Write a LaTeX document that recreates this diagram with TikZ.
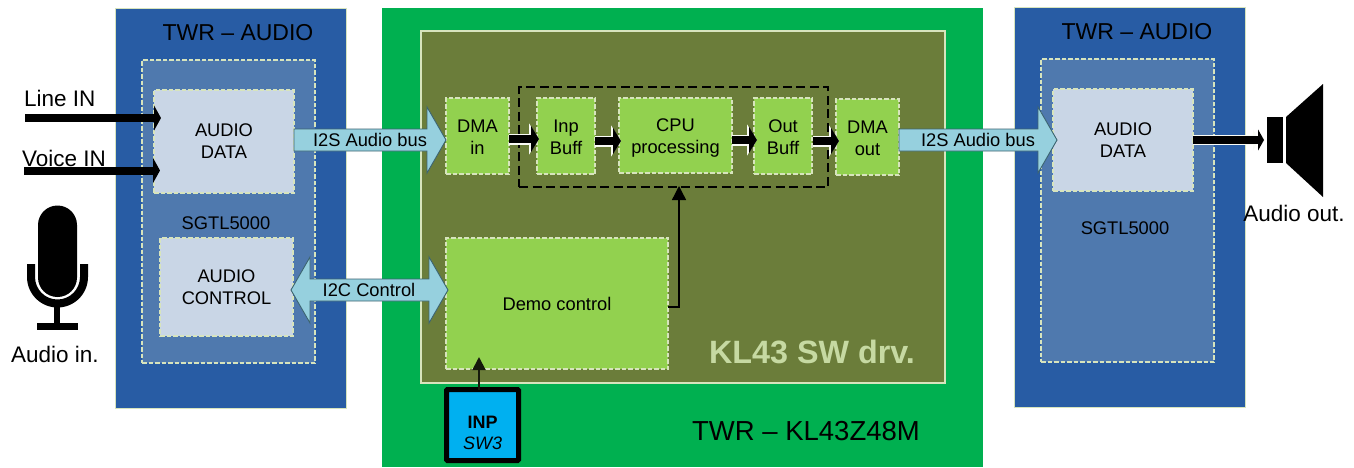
\documentclass[tikz,border=0pt]{standalone}
\usepackage{fontspec}
\setmainfont{Liberation Sans}
\usetikzlibrary{arrows.meta,calc}
\definecolor{twrblue}{HTML}{285CA4}
\definecolor{sgtl}{HTML}{4F79AE}
\definecolor{audiobox}{HTML}{C9D6E6}
\definecolor{edgelight}{HTML}{D7E4BD}
\definecolor{boardgreen}{HTML}{00B050}
\definecolor{olive}{HTML}{6B7D3A}
\definecolor{swgreen}{HTML}{92D14F}
\definecolor{busfill}{HTML}{96D0DE}
\definecolor{busedge}{HTML}{3C6470}
\definecolor{inpblue}{HTML}{00B0F0}
\definecolor{drvtext}{HTML}{C6D9A2}
\newcommand{\fs}[1]{\fontsize{#1}{22}\selectfont}
\newcommand{\lowerone}{\rule{0pt}{15.5pt}}
\newcommand{\lowertwo}{\rule{0pt}{17pt}}
% horizontal block arrow: start, end, y of its axis (in picture pixels, downwards)
\newcommand{\busarrow}[3]{%
  \path let \p1=(#1), \p2=(#2) in
    [busshape] (\x1,-#3pt+11pt) -- (\x2-19pt,-#3pt+11pt) -- (\x2-19pt,-#3pt+33pt) -- (\x2,-#3pt)
    -- (\x2-19pt,-#3pt-33pt) -- (\x2-19pt,-#3pt-11pt) -- (\x1,-#3pt-11pt) -- cycle;}
\newcommand{\busarrowboth}[3]{%
  \path let \p1=(#1), \p2=(#2) in
    [busshape] (\x1,-#3pt) -- (\x1+19pt,-#3pt+33pt) -- (\x1+19pt,-#3pt+11pt)
    -- (\x2-19pt,-#3pt+11pt) -- (\x2-19pt,-#3pt+33pt) -- (\x2,-#3pt)
    -- (\x2-19pt,-#3pt-33pt) -- (\x2-19pt,-#3pt-11pt) -- (\x1+19pt,-#3pt-11pt)
    -- (\x1+19pt,-#3pt-33pt) -- cycle;}
\tikzset{
  x=1pt,y=-1pt,
  every node/.style={inner sep=0pt,outer sep=0pt,align=center,text=black},
  labeltext/.style={font=\fs{18.3}},
  twr/.style={draw=edgelight,line width=0.8pt,fill=twrblue},
  dashbox/.style={draw=edgelight,line width=2.6pt,dash pattern=on 4.5pt off 2pt,font=\fs{18.3}},
  sgtlbox/.style={dashbox,fill=sgtl},
  audiofn/.style={dashbox,fill=audiobox},
  swfn/.style={dashbox,fill=swgreen},
  busshape/.style={draw=busedge,line width=0.9pt,fill=busfill,line join=miter},
  blackarrow/.style={draw=black,line width=8pt,-{Triangle[length=8pt,width=26pt]},
    preaction={draw=white!85!edgelight,line width=11pt,-{Triangle[length=10pt,width=31pt]}}},
  plainblack/.style={draw=black,line width=8pt,-{Triangle[length=7pt,width=25pt]}},
}
\begin{document}
\begin{tikzpicture}
\useasboundingbox (0,0) rectangle (1354,467);
% carrier boards
\node[twr,minimum width=231pt,minimum height=400pt] (twrl) at (230.5,208) {};
\node[twr,minimum width=231pt,minimum height=400pt] (twrr) at (1129.5,207) {};
\node[fill=boardgreen,minimum width=601pt,minimum height=459pt] (kl) at (682.5,237.5) {};
\node[draw=edgelight,line width=1.8pt,fill=olive,minimum width=524pt,minimum height=352pt] (drv) at (683,207) {};
% left SGTL5000
\node[sgtlbox,minimum width=173pt,minimum height=303pt] (sgl) at (228.5,211.5) {};
\node[audiofn,minimum width=140pt,minimum height=103pt] (adl) at (224,141.5) {AUDIO\\DATA};
\node[audiofn,minimum width=133pt,minimum height=98pt] (actl) at (226.5,287) {AUDIO\\CONTROL};
% right SGTL5000
\node[sgtlbox,minimum width=173pt,minimum height=303pt] (sgr) at (1127.5,210.5) {};
\node[audiofn,minimum width=140pt,minimum height=102pt] (adr) at (1123,140) {AUDIO\\DATA};
% software blocks
\node[swfn,minimum width=63pt,minimum height=76pt] (dmain) at (477.5,136) {\lowerone DMA\\in};
\node[swfn,minimum width=58pt,minimum height=76pt] (inpb) at (566,136) {\lowerone Inp\\Buff};
\node[swfn,minimum width=113pt,minimum height=75pt] (cpu) at (675.5,135.5) {\lowertwo CPU\\processing};
\node[swfn,minimum width=58pt,minimum height=76pt] (outb) at (783,136) {\lowerone Out\\Buff};
\node[swfn,minimum width=63pt,minimum height=76pt] (dmaout) at (867.5,137) {\lowerone DMA\\out};
\node[draw=black,line width=1.3pt,dash pattern=on 9pt off 4.5pt,minimum width=309pt,minimum height=100pt] (grp) at (673.5,137) {};
\node[swfn,minimum width=222pt,minimum height=131pt] (demo) at (557,303.5) {Demo control};
\node[draw=black,line width=5pt,rounded corners=1pt,fill=inpblue,minimum width=72pt,minimum height=71pt,font=\fs{18}] (inp) at (482.5,425)
  {\vphantom{X}\\[-6.5pt]\textbf{INP}\\[-1pt]\textit{SW3}};
% titles
\node[font=\fs{23}] (t1) at (238,33) {TWR – AUDIO};
\node[font=\fs{23}] (t2) at (1137,32) {TWR – AUDIO};
\node[font=\fs{27.5}] (t3) at (806,431) {TWR – KL43Z48M};
\node[font=\bfseries\fs{32.3},text=drvtext] (t4) at (812,352) {KL43 SW drv.};
\node[labeltext] (s1) at (226,223) {SGTL5000};
\node[labeltext] (s2) at (1125,228) {SGTL5000};
% bus arrows
\busarrow{adl.east}{dmain.west}{140}
\node[labeltext] (bus1) at (370,139.5) {I2S Audio bus};
\busarrow{dmaout.east}{[xshift=4pt]adr.west}{140}
\node[labeltext] (bus2) at (978,139.5) {I2S Audio bus};
\busarrowboth{[xshift=-2pt]actl.east}{[xshift=2pt]demo.west}{290}
\node[labeltext] (bus3) at (369,289.5) {I2C Control};
% signal-path arrows
\draw[blackarrow,shorten >=-2pt] ([yshift=-3pt]dmain.east) -- ([yshift=-3pt]inpb.west);
\draw[blackarrow,shorten >=-2pt] ([yshift=-5pt]inpb.east) -- ([yshift=-5.5pt]cpu.west);
\draw[blackarrow,shorten >=-3pt] ([yshift=-4.5pt]cpu.east) -- ([yshift=-4pt]outb.west);
\draw[blackarrow,shorten >=-3pt] ([yshift=-5pt,xshift=1pt]outb.east) -- ([yshift=-4pt]dmaout.west);
% control arrows
\draw[draw=black,line width=1.4pt,-{Triangle[length=14pt,width=14pt]},shorten >=-1pt] ([yshift=-3.5pt]demo.east) -| ([xshift=5.5pt]grp.south);
\draw[draw=black!80!olive,line width=2pt,-{Triangle[length=13pt,width=13pt]},shorten >=-12pt] ([xshift=-3.5pt]inp.north) -- ([xshift=-3.5pt]inp.north |- demo.south);
% inputs
\coordinate (linein) at (25,118);
\coordinate (voicein) at (24,170.5);
\draw[plainblack,shorten >=-7pt] (linein) -- (linein -| adl.west);
\draw[plainblack,shorten >=-6pt] (voicein) -- (voicein -| adl.west);
\node[anchor=west,font=\fs{22.5}] (l1) at (24,98) {Line IN};
\node[anchor=west,font=\fs{22.5}] (l2) at (22,158) {Voice IN};
\node[font=\fs{22.5}] (l3) at (55,354) {Audio in.};
\node[font=\fs{22.5}] (l4) at (1294,213) {Audio out.};
% microphone
\fill[black] (38,225) arc[start angle=180,end angle=360,radius=19.5] -- (77,277.5) arc[start angle=0,end angle=180,radius=19.5] -- cycle;
\fill[black] (27,264) -- (35,264) -- (35,277) arc[start angle=180,delta angle=-180,radius=22.5] -- (80,264) -- (88,264) -- (88,277) arc[start angle=0,delta angle=180,radius=30.5] -- cycle;
\fill[black] (54,306) rectangle (60,324);
\fill[black] (37,323) rectangle (78,330);
% speaker
\node[fill=black,minimum width=16pt,minimum height=46pt] (spk) at (1275,140) {};
\fill[black] (1286,117) -- (1323,84) -- (1323,197) -- (1286,163) -- cycle;
\draw[draw=black,line width=8.5pt,-{Triangle[length=6pt,width=21pt]},shorten >=3pt,preaction={draw=white!85!edgelight,line width=10pt,shorten >=8pt}] (adr.east) -- (spk.west);
\end{tikzpicture}
\end{document}
